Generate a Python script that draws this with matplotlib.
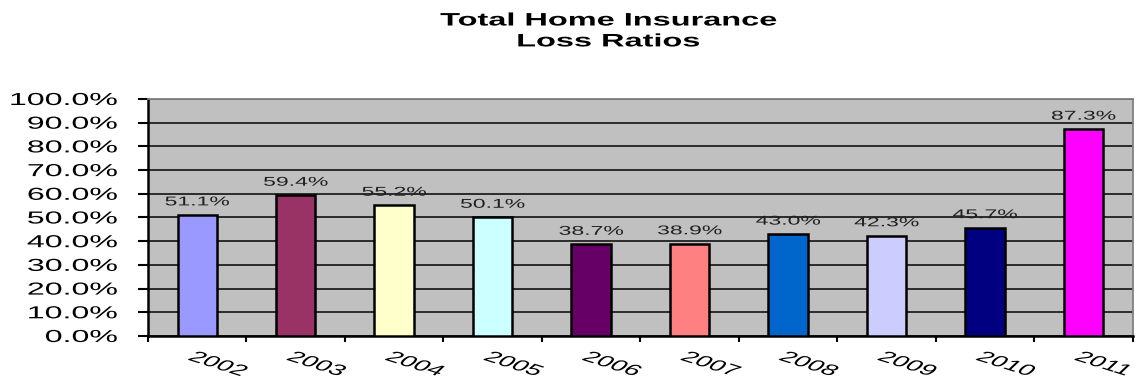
import numpy as np
import matplotlib
matplotlib.use('Agg')
import matplotlib.pyplot as plt
from matplotlib.ticker import MultipleLocator, FuncFormatter
from matplotlib.patheffects import AbstractPathEffect
from matplotlib.transforms import Affine2D

plt.rcParams['font.family'] = ['Liberation Sans', 'DejaVu Sans']

# loss ratios by year (percent)
years = ['2002', '2003', '2004', '2005', '2006', '2007', '2008', '2009', '2010', '2011']
loss_ratio = [51.1, 59.4, 55.2, 50.1, 38.7, 38.9, 43.0, 42.3, 45.7, 87.3]
bar_colors = ['#9999FF', '#993366', '#FFFFCC', '#CCFFFF', '#660066',
              '#FF8080', '#0066CC', '#CCCCFF', '#000080', '#FF00FF']


class HStretch(AbstractPathEffect):
    """Draw text widened horizontally (on screen) about a point of its ink box."""

    def __init__(self, sx, fx=0.0, fy=0.0):
        super().__init__()
        self.sx, self.fx, self.fy = sx, fx, fy

    def draw_path(self, renderer, gc, tpath, affine, rgbFace=None):
        if len(tpath.vertices) == 0:
            return
        ext = tpath.get_extents()
        lx = ext.x0 + self.fx * (ext.x1 - ext.x0)
        ly = ext.y0 + self.fy * (ext.y1 - ext.y0)
        px, py = affine.transform((lx, ly))
        wide = Affine2D().translate(-px, -py).scale(self.sx, 1).translate(px, py)
        renderer.draw_path(gc, tpath, affine + wide, rgbFace)


fig = plt.figure(figsize=(11.35, 3.79), dpi=100)
ax = fig.add_axes([0.1304, 0.1135, 0.8676, 0.6253])
ax.set_facecolor('#C0C0C0')

x = np.arange(len(years))
ax.bar(x, loss_ratio, width=0.4, color=bar_colors,
       edgecolor='black', linewidth=1.8, zorder=3)

for xi, v in zip(x, loss_ratio):
    ax.text(xi, v + 4.0, '%.1f%%' % v, ha='center', va='baseline',
            fontsize=9.2, color='#202020', zorder=4,
            path_effects=[HStretch(1.8, 0.5)])

ax.set_xlim(-0.5, len(years) - 0.5)
ax.set_ylim(0, 100)
ax.yaxis.set_major_locator(MultipleLocator(10))
ax.yaxis.set_major_formatter(FuncFormatter(lambda v, p: '%.1f%%' % v))
ax.grid(axis='y', color='#202020', linewidth=1.3, zorder=1)

# year labels at category centres, tick marks on the boundaries
ax.set_xticks(x)
ax.set_xticks(np.arange(-0.5, len(years)), minor=True)
ax.set_xticklabels(years, rotation=-30, rotation_mode='anchor', ha='left', va='top')
ax.tick_params(axis='x', which='major', length=0, pad=10, labelsize=11)
ax.tick_params(axis='x', which='minor', direction='out', length=4.5, width=1.5, color='black')
ax.tick_params(axis='y', direction='out', length=7, width=1.5, color='black',
               labelsize=12.5, pad=15)
for lab in ax.get_xticklabels():
    lab.set_path_effects([HStretch(1.85, 0.0, 1.0)])
for lab in ax.get_yticklabels():
    lab.set_path_effects([HStretch(1.85, 1.0, 0.5)])

for side in ['left', 'bottom']:
    ax.spines[side].set_color('black')
    ax.spines[side].set_linewidth(1.8)
for side in ['top', 'right']:
    ax.spines[side].set_color('#808080')
    ax.spines[side].set_linewidth(1.3)

fig.text(0.536, 0.917, 'Total Home Insurance\nLoss Ratios', ha='center', va='center',
         fontsize=13, fontweight='bold', linespacing=1.3,
         path_effects=[HStretch(1.8, 0.5)])

fig.savefig('out.png', dpi=100)
